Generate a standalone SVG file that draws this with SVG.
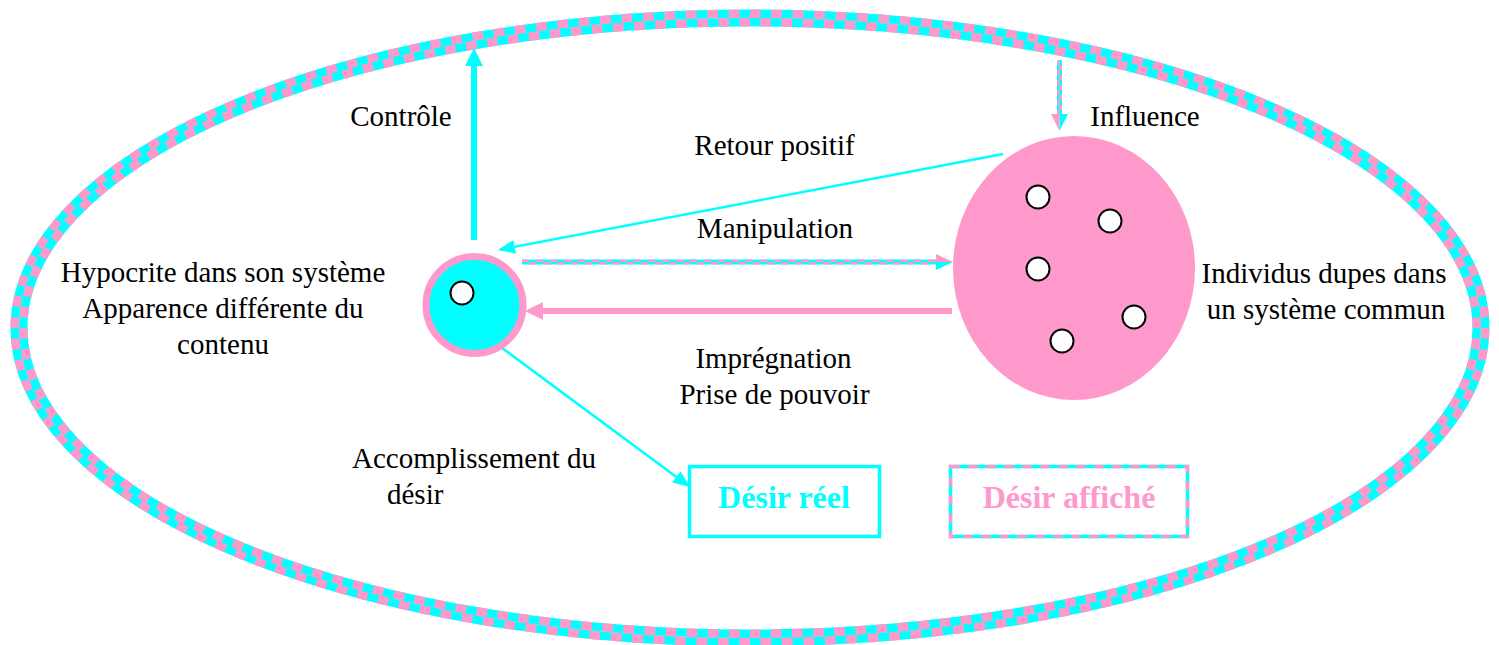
<svg xmlns="http://www.w3.org/2000/svg" width="1499" height="645" viewBox="0 0 1499 645">
<defs>
<marker id="arrCyan" markerUnits="userSpaceOnUse" markerWidth="18" markerHeight="16" refX="14" refY="7" orient="auto">
<path d="M0,0 L17,7 L0,14 z" fill="#00FFFF"/>
</marker>
</defs>
<style>
text{font-family:"Liberation Serif","Times New Roman",serif;font-size:29px;fill:#000}
.bold{font-weight:bold;font-size:32px}
.cy{stroke:#00FFFF;fill:none}
.pkd{stroke:#FF99CC;fill:none}
.ring{stroke-width:8.5;stroke-dasharray:10.625 10.625}
.dot{fill:#fff;stroke:#000;stroke-width:2}
</style>
<rect width="1499" height="645" fill="#fff"/>
<g id="frame">
<ellipse cx="750" cy="328" rx="735.25" ry="314.25" class="cy" stroke-width="8.5"/>
<ellipse cx="750" cy="328" rx="735.25" ry="314.25" class="pkd ring" pathLength="3400"/>
<ellipse cx="750" cy="328" rx="726.75" ry="305.75" class="cy" stroke-width="8.5"/>
<ellipse cx="750" cy="328" rx="726.75" ry="305.75" class="pkd ring" pathLength="3400" stroke-dashoffset="10.625"/>
</g>
<g id="connectors">
<line x1="474" y1="240" x2="474" y2="62" class="cy" stroke-width="6"/>
<polygon points="474,48 483,66 465,66" fill="#00FFFF"/>
<line x1="1058.25" y1="60" x2="1058.25" y2="116" class="cy" stroke-width="2.5"/>
<line x1="1058.25" y1="60" x2="1058.25" y2="116" class="pkd" stroke-width="2.5" stroke-dasharray="5 5"/>
<line x1="1060.75" y1="60" x2="1060.75" y2="116" class="cy" stroke-width="2.5"/>
<line x1="1060.75" y1="60" x2="1060.75" y2="116" class="pkd" stroke-width="2.5" stroke-dasharray="5 5" stroke-dashoffset="5"/>
<polygon points="1051,114 1059.5,114 1059.5,131" fill="#FF99CC"/>
<polygon points="1059.5,114 1068,114 1059.5,131" fill="#00FFFF"/>
<line x1="1003" y1="154" x2="500.9" y2="249.4" class="cy" stroke-width="2.5" marker-end="url(#arrCyan)"/>
<line x1="522" y1="260.75" x2="938" y2="260.75" class="cy" stroke-width="2.5"/>
<line x1="522" y1="260.75" x2="938" y2="260.75" class="pkd" stroke-width="2.5" stroke-dasharray="7 7"/>
<line x1="522" y1="263.25" x2="938" y2="263.25" class="cy" stroke-width="2.5"/>
<line x1="522" y1="263.25" x2="938" y2="263.25" class="pkd" stroke-width="2.5" stroke-dasharray="7 7" stroke-dashoffset="7"/>
<polygon points="936,254 936,262 953,262" fill="#FF99CC"/>
<polygon points="936,262 936,270 953,262" fill="#00FFFF"/>
<line x1="952" y1="311" x2="540" y2="311" stroke="#FF99CC" stroke-width="6"/>
<polygon points="525,311 543,302 543,320" fill="#FF99CC"/>
<line x1="498" y1="345" x2="687.6" y2="485.2" class="cy" stroke-width="2.5" marker-end="url(#arrCyan)"/>
</g>
<g id="hypocrite">
<circle cx="474.5" cy="305" r="48.5" fill="#00FFFF" stroke="#FF99CC" stroke-width="7"/>
<circle cx="462" cy="293" r="11.5" class="dot"/>
</g>
<g id="individus">
<ellipse cx="1074" cy="268" rx="121" ry="132" fill="#FF99CC"/>
<circle cx="1038" cy="197" r="11.5" class="dot"/>
<circle cx="1110" cy="221" r="11.5" class="dot"/>
<circle cx="1038" cy="269" r="11.5" class="dot"/>
<circle cx="1134" cy="317" r="11.5" class="dot"/>
<circle cx="1062" cy="341" r="11.5" class="dot"/>
</g>
<g id="desir-reel">
<rect x="689.5" y="466.5" width="190" height="70" fill="#fff" stroke="#00FFFF" stroke-width="3.5"/>
<text x="784" y="508" text-anchor="middle" class="bold" style="fill:#00FFFF">Désir réel</text>
</g>
<g id="desir-affiche">
<rect x="950.5" y="466.5" width="237" height="70" fill="#fff" class="cy" stroke-width="3.5"/>
<rect x="950.5" y="466.5" width="237" height="70" class="pkd" stroke-width="3.5" stroke-dasharray="9 9"/>
<text x="1069" y="508" text-anchor="middle" class="bold" style="fill:#FF99CC">Désir affiché</text>
</g>
<g id="labels">
<text x="401" y="126" text-anchor="middle">Contrôle</text>
<text x="1145" y="126" text-anchor="middle">Influence</text>
<text x="774.5" y="155" text-anchor="middle">Retour positif</text>
<text x="775" y="238" text-anchor="middle">Manipulation</text>
<text x="223" y="282" text-anchor="middle">Hypocrite dans son système</text>
<text x="223" y="318" text-anchor="middle">Apparence différente du</text>
<text x="223" y="354" text-anchor="middle">contenu</text>
<text x="1324" y="283" text-anchor="middle">Individus dupes dans</text>
<text x="1326" y="319" text-anchor="middle">un système commun</text>
<text x="773.5" y="368" text-anchor="middle">Imprégnation</text>
<text x="774.5" y="404" text-anchor="middle">Prise de pouvoir</text>
<text x="474" y="468" text-anchor="middle">Accomplissement du</text>
<text x="387" y="504">désir</text>
</g>
</svg>
